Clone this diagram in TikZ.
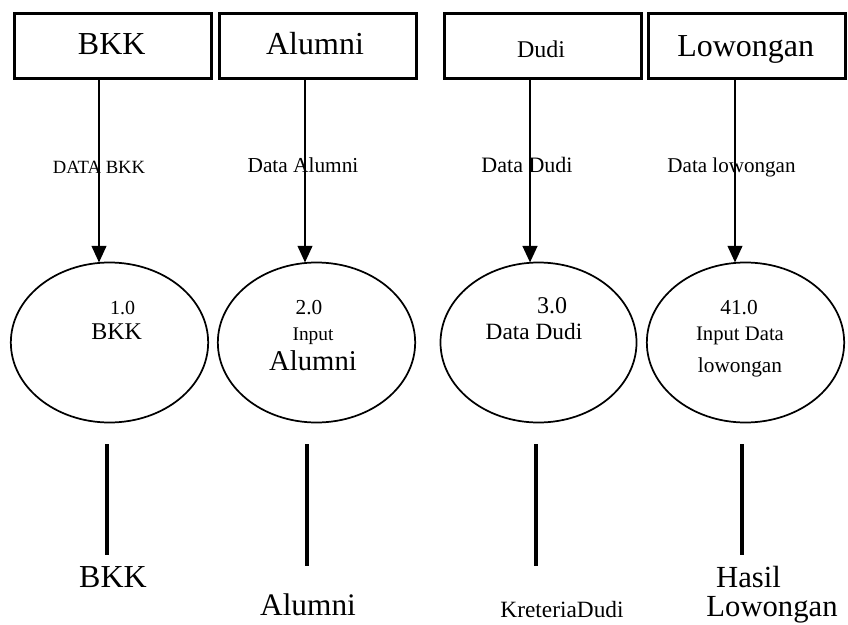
\documentclass[tikz,border=0pt]{standalone}
\usepackage{fontspec}
\setmainfont{Liberation Serif}
\usetikzlibrary{shapes.geometric,arrows.meta}
\newcommand{\fs}[1]{\fontsize{#1}{#1}\selectfont}
\tikzset{
  entbox/.style={draw,line width=2.6pt,minimum width=147.75pt,minimum height=48.75pt,inner sep=0pt,outer sep=0pt},
  proc/.style={draw,ellipse,line width=1.3pt,minimum width=148pt,minimum height=120pt,inner sep=0pt,outer sep=0pt},
  txt/.style={inner sep=0pt,anchor=base},
  arr/.style={line width=1.6pt,-{Triangle[length=12.5pt,width=11pt]}},
  stub/.style={line width=2.3pt}
}
\begin{document}
\begin{tikzpicture}[x=0.75pt,y=-0.75pt]
\useasboundingbox (0,0) rectangle (848,624);
% external entities
\node[entbox] (b1) at (113,46) {};
\node[entbox] (b2) at (318,46) {};
\node[entbox] (b3) at (543,46) {};
\node[entbox] (b4) at (747,46) {};
\node[txt] (tb1) at (111.7,55) {\fs{24pt}BKK};
\node[txt] (tb2) at (315,55) {\fs{24pt}Alumni};
\node[txt] (tb3) at (541,58) {\fs{18pt}Dudi};
\node[txt] (tb4) at (745.7,57) {\fs{24pt}Lowongan};
% processes
\node[proc] (e1) at (109.5,342.5) {};
\node[proc] (e2) at (316.5,342.5) {};
\node[proc,minimum width=147pt] (e3) at (538.5,342.5) {};
\node[proc] (e4) at (745.5,342.5) {};
% arrow x positions
\coordinate (c1) at (99,0);
\coordinate (c2) at (305,0);
\coordinate (c3) at (530,0);
\coordinate (c4) at (735,0);
\draw[arr] (b1.south -| c1) -- (e1.north -| c1);
\draw[arr] (b2.south -| c2) -- (e2.north -| c2);
\draw[arr,line width=2pt] (b3.south -| c3) -- (e3.north -| c3);
\draw[arr] (b4.south -| c4) -- (e4.north -| c4);
% flow labels
\node[txt] (f1) at (99,173) {\fs{14pt}DATA BKK};
\node[txt] (f2) at (303,172) {\fs{16pt}Data Alumni};
\node[txt] (f3) at (527,172) {\fs{16.5pt}Data Dudi};
\node[txt] (f4) at (731.5,172) {\fs{15.8pt}Data lowongan};
% process texts
\node[txt] (p1a) at (122.5,314) {\fs{15pt}1.0};
\node[txt] (p1b) at (116.7,339) {\fs{18pt}BKK};
\node[txt] (p2a) at (309,314) {\fs{16pt}2.0};
\node[txt] (p2b) at (313,340) {\fs{14.5pt}Input};
\node[txt] (p2c) at (313,370) {\fs{21.5pt}Alumni};
\node[txt] (p3a) at (552,313) {\fs{18pt}3.0};
\node[txt] (p3b) at (534,339) {\fs{17.5pt}Data Dudi};
\node[txt] (p4a) at (739,314) {\fs{16pt}41.0};
\node[txt] (p4b) at (740,340) {\fs{15.5pt}Input Data};
\node[txt] (p4c) at (740,372) {\fs{16pt}lowongan};
% lower stubs
\coordinate (l1a) at (107,444); \coordinate (l1b) at (107,555);
\coordinate (l2a) at (307,444); \coordinate (l2b) at (307,566);
\coordinate (l3a) at (536,444); \coordinate (l3b) at (536,566);
\coordinate (l4a) at (742,444); \coordinate (l4b) at (742,555);
\draw[stub] (l1a) -- (l1b);
\draw[stub] (l2a) -- (l2b);
\draw[stub] (l3a) -- (l3b);
\draw[stub] (l4a) -- (l4b);
% lower texts
\node[txt] (o1) at (113,587) {\fs{24pt}BKK};
\node[txt] (o2) at (308,615) {\fs{23.5pt}Alumni};
\node[txt] (o3) at (562,617) {\fs{17.5pt}KreteriaDudi};
\node[txt] (o4a) at (748.5,587) {\fs{23pt}Hasil};
\node[txt] (o4b) at (772,616) {\fs{23pt}Lowongan};
\end{tikzpicture}
\end{document}
